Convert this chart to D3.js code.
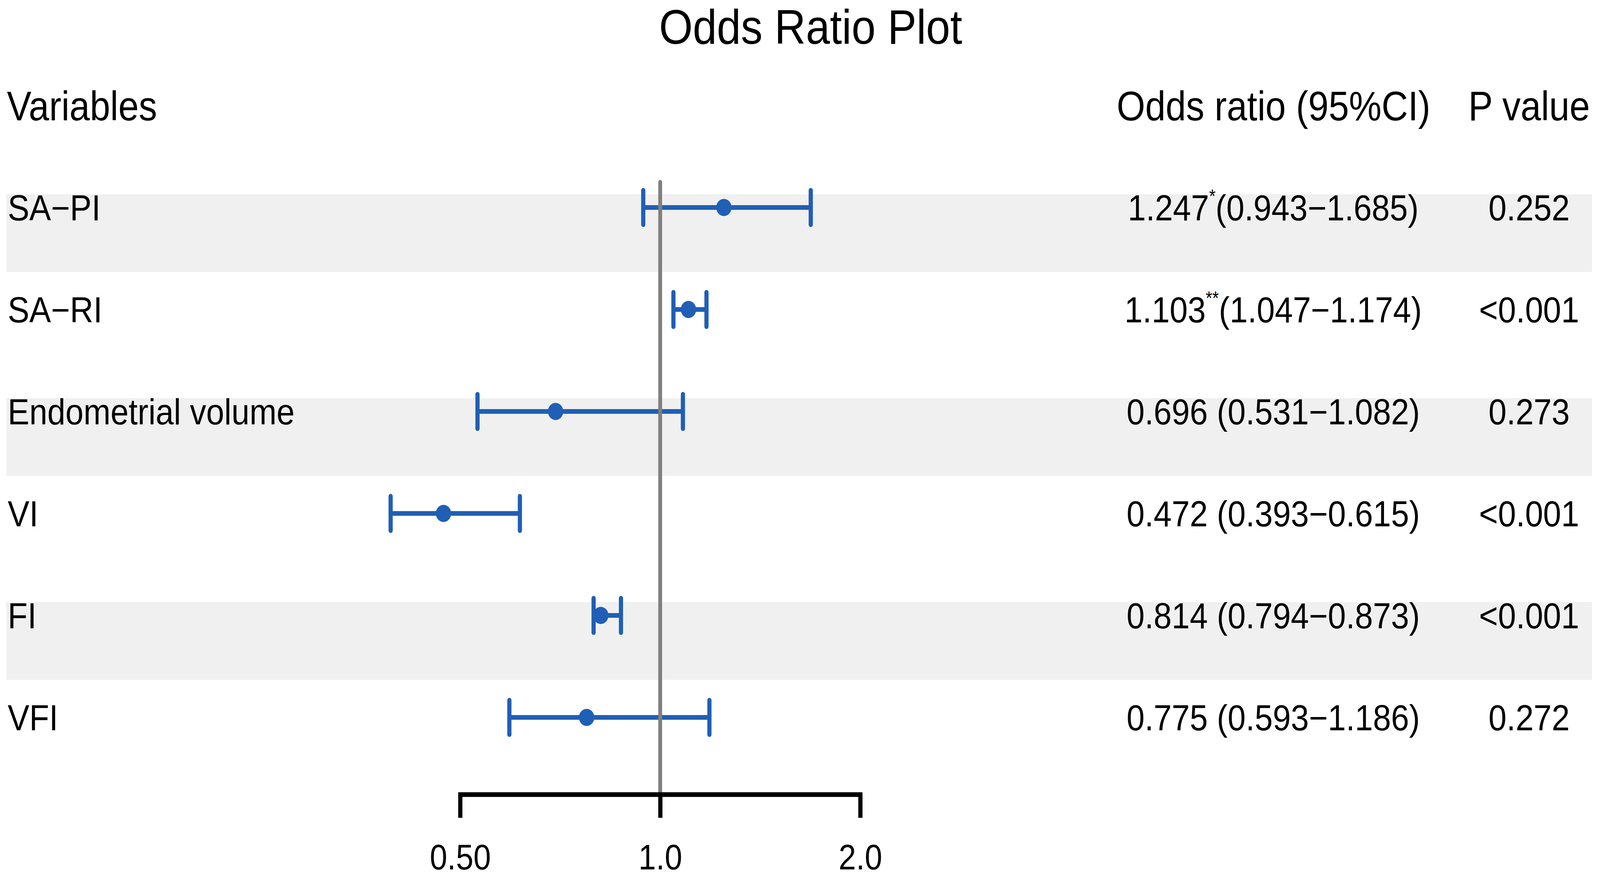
<!DOCTYPE html>
<html>
<head>
<meta charset="utf-8">
<script src="https://cdn.jsdelivr.net/npm/d3@7"></script>
<style>
  html, body { margin: 0; padding: 0; background: #fff; overflow: hidden; }
  #chart { width: 100vw; height: 100vh; }
  svg { display: block; }
  text { font-family: "Liberation Sans", Arial, sans-serif; fill: #000; }
</style>
</head>
<body>
<div id="chart"></div>
<script>
const variables = ["SA\u2212PI", "SA\u2212RI", "Endometrial volume", "VI", "FI", "VFI"]
const oddsRatio = [1.247, 1.103, 0.696, 0.472, 0.814, 0.775]
const ciLower = [0.943, 1.047, 0.531, 0.393, 0.794, 0.593]
const ciUpper = [1.685, 1.174, 1.082, 0.615, 0.873, 1.186]
const stars = ["*", "**", "", "", "", ""]
const pValues = ["0.252", "<0.001", "0.273", "<0.001", "<0.001", "0.272"]
const tickValues = [0.5, 1, 2]
const tickLabels = ["0.50", "1.0", "2.0"]

const width = 4583,
      height = 2247,
      blue = "#1f5fb5",
      lineW = 12

const rows = variables.map(function(v, i) {
  return { name: v, or: oddsRatio[i], lo: ciLower[i], hi: ciUpper[i], star: stars[i], p: pValues[i], i: i }
})

const xScale = d3.scaleLog()
                 .base(2)
                 .domain([0.5, 2])
                 .range([1318, 2464]),

      yScale = d3.scalePoint()
                 .domain(variables)
                 .range([531, 1836])

// drawing is laid out in a 4583x2247 box and stretched to fill the window
const svg = d3.select('#chart')
              .append('svg')
              .attr('viewBox', '0 0 ' + width + ' ' + height)
              .attr('preserveAspectRatio', 'none')
              .attr('width', '100%')
              .attr('height', '100%')

svg.append('rect')
   .attr('width', width)
   .attr('height', height)
   .attr('fill', '#fff')

// alternating shaded bands
svg.selectAll('rect.band')
   .data(rows.filter(function(d) { return d.i % 2 === 0 }))
   .enter()
   .append('rect')
   .attr('class', 'band')
   .attr('x', 18)
   .attr('width', 4560 - 18)
   .attr('y', function(d) { return yScale(d.name) - 34 })
   .attr('height', 199)
   .attr('fill', '#f0f0f0')

// title and headers
svg.append('text')
   .attr('x', 2322)
   .attr('y', 112)
   .attr('text-anchor', 'middle')
   .style('font-size', '124px')
   .text('Odds Ratio Plot')

svg.append('text')
   .attr('x', 20)
   .attr('y', 308)
   .style('font-size', '105px')
   .text('Variables')

svg.append('text')
   .attr('x', 3648)
   .attr('y', 308)
   .attr('text-anchor', 'middle')
   .style('font-size', '105px')
   .text('Odds ratio (95%CI)')

svg.append('text')
   .attr('x', 4380)
   .attr('y', 308)
   .attr('text-anchor', 'middle')
   .style('font-size', '105px')
   .text('P value')

const fs = 93,
      base = function(d) { return yScale(d.name) + fs * 0.358 }

// row labels
svg.selectAll('text.label')
   .data(rows)
   .enter()
   .append('text')
   .attr('class', 'label')
   .attr('x', 22)
   .attr('y', base)
   .style('font-size', fs + 'px')
   .text(function(d) { return d.name })

// odds ratio (CI) column
const orText = svg.selectAll('text.or')
                  .data(rows)
                  .enter()
                  .append('text')
                  .attr('class', 'or')
                  .attr('x', 3647)
                  .attr('y', base)
                  .attr('text-anchor', 'middle')
                  .style('font-size', fs + 'px')

orText.append('tspan')
      .text(function(d) { return d.or.toFixed(3) + (d.star ? '' : ' ') })
orText.filter(function(d) { return d.star })
      .append('tspan')
      .attr('dy', -fs * 0.5)
      .style('font-size', '48px')
      .text(function(d) { return d.star })
orText.append('tspan')
      .attr('dy', function(d) { return d.star ? fs * 0.5 : 0 })
      .text(function(d) {
        return '(' + d.lo.toFixed(3) + '\u2212' + d.hi.toFixed(3) + ')'
      })

// p values
svg.selectAll('text.pval')
   .data(rows)
   .enter()
   .append('text')
   .attr('class', 'pval')
   .attr('x', 4380)
   .attr('y', base)
   .attr('text-anchor', 'middle')
   .style('font-size', fs + 'px')
   .text(function(d) { return d.p })

// error bars
const bars = svg.selectAll('g.bar')
                .data(rows)
                .enter()
                .append('g')
                .attr('class', 'bar')
                .attr('stroke', blue)
                .attr('stroke-width', lineW)

bars.append('line')
    .attr('x1', function(d) { return xScale(d.lo) })
    .attr('x2', function(d) { return xScale(d.hi) })
    .attr('y1', function(d) { return yScale(d.name) })
    .attr('y2', function(d) { return yScale(d.name) })

bars.selectAll('line.cap')
    .data(function(d) { return [d.lo, d.hi].map(function(v) { return { v: v, y: yScale(d.name) } }) })
    .enter()
    .append('line')
    .attr('class', 'cap')
    .attr('stroke-linecap', 'round')
    .attr('x1', function(c) { return xScale(c.v) })
    .attr('x2', function(c) { return xScale(c.v) })
    .attr('y1', function(c) { return c.y - 44 })
    .attr('y2', function(c) { return c.y + 44 })

bars.append('circle')
    .attr('cx', function(d) { return xScale(d.or) })
    .attr('cy', function(d) { return yScale(d.name) })
    .attr('r', 22)
    .attr('fill', blue)
    .attr('stroke', 'none')

// reference line at OR = 1
svg.append('line')
   .attr('x1', xScale(1))
   .attr('x2', xScale(1))
   .attr('y1', 466)
   .attr('y2', 2030)
   .attr('stroke', '#808080')
   .attr('stroke-width', 11)
   .attr('stroke-linecap', 'round')

// x axis
const xAxis = d3.axisBottom(xScale)
                .tickValues(tickValues)
                .tickFormat(function(d, i) { return tickLabels[i] })
                .tickSize(60)
                .tickSizeOuter(0)
                .tickPadding(68)

const axisG = svg.append('g')
                 .attr('transform', 'translate(0, 2033)')
                 .call(xAxis)

axisG.attr('font-family', null).attr('font-size', null)
axisG.select('.domain')
     .attr('stroke', '#000')
     .attr('stroke-width', lineW)
     .attr('stroke-linecap', 'square')
axisG.selectAll('.tick line')
     .attr('stroke', '#000')
     .attr('stroke-width', lineW)
axisG.selectAll('.tick text')
     .style('font-size', '90px')
     .attr('fill', '#000')
</script>
</body>
</html>
